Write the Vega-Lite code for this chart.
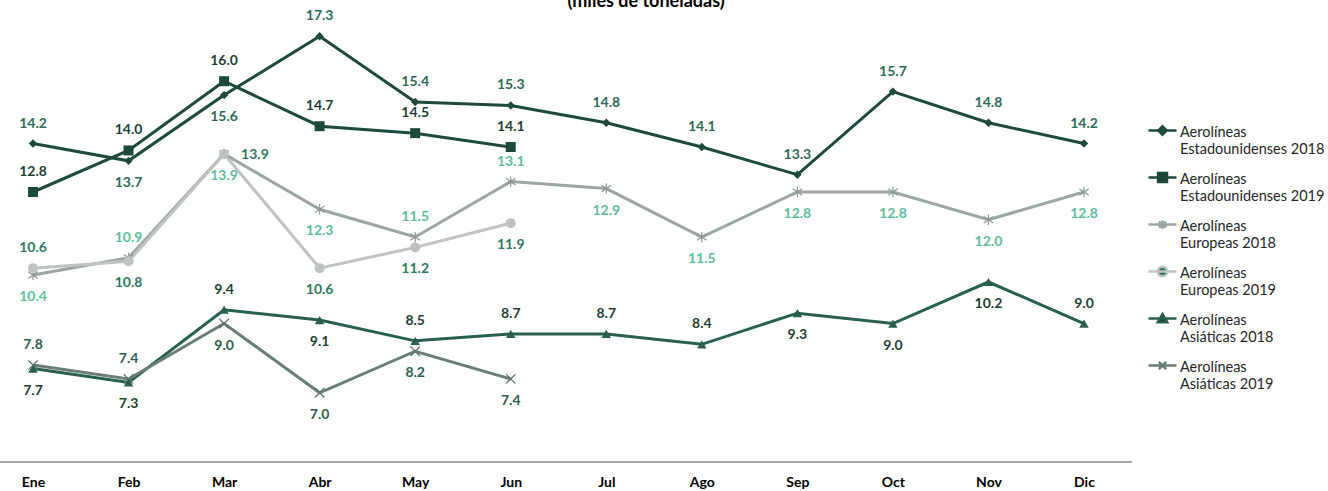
{
  "$schema": "https://vega.github.io/schema/vega-lite/v6.json",
  "width": 1132,
  "height": 450,
  "autosize": {"type": "none"},
  "padding": {"left": 0, "top": 12, "right": 196, "bottom": 29},
  "background": "white",
  "config": {
    "font": "Lato",
    "view": {"stroke": null}
  },
  "title": {
    "text": "(miles de toneladas)",
    "fontSize": 18,
    "fontWeight": "bold",
    "color": "#000000",
    "anchor": "middle",
    "offset": -2,
    "dx": 80
  },
  "data": {
    "values": [
      {"mes": "Ene", "serie": "Aerolíneas Estadounidenses 2018", "valor": 14.2},
      {"mes": "Feb", "serie": "Aerolíneas Estadounidenses 2018", "valor": 13.7},
      {"mes": "Mar", "serie": "Aerolíneas Estadounidenses 2018", "valor": 15.6},
      {"mes": "Abr", "serie": "Aerolíneas Estadounidenses 2018", "valor": 17.3},
      {"mes": "May", "serie": "Aerolíneas Estadounidenses 2018", "valor": 15.4},
      {"mes": "Jun", "serie": "Aerolíneas Estadounidenses 2018", "valor": 15.3},
      {"mes": "Jul", "serie": "Aerolíneas Estadounidenses 2018", "valor": 14.8},
      {"mes": "Ago", "serie": "Aerolíneas Estadounidenses 2018", "valor": 14.1},
      {"mes": "Sep", "serie": "Aerolíneas Estadounidenses 2018", "valor": 13.3},
      {"mes": "Oct", "serie": "Aerolíneas Estadounidenses 2018", "valor": 15.7},
      {"mes": "Nov", "serie": "Aerolíneas Estadounidenses 2018", "valor": 14.8},
      {"mes": "Dic", "serie": "Aerolíneas Estadounidenses 2018", "valor": 14.2},
      {"mes": "Ene", "serie": "Aerolíneas Estadounidenses 2019", "valor": 12.8},
      {"mes": "Feb", "serie": "Aerolíneas Estadounidenses 2019", "valor": 14.0},
      {"mes": "Mar", "serie": "Aerolíneas Estadounidenses 2019", "valor": 16.0},
      {"mes": "Abr", "serie": "Aerolíneas Estadounidenses 2019", "valor": 14.7},
      {"mes": "May", "serie": "Aerolíneas Estadounidenses 2019", "valor": 14.5},
      {"mes": "Jun", "serie": "Aerolíneas Estadounidenses 2019", "valor": 14.1},
      {"mes": "Ene", "serie": "Aerolíneas Europeas 2018", "valor": 10.4},
      {"mes": "Feb", "serie": "Aerolíneas Europeas 2018", "valor": 10.9},
      {"mes": "Mar", "serie": "Aerolíneas Europeas 2018", "valor": 13.9},
      {"mes": "Abr", "serie": "Aerolíneas Europeas 2018", "valor": 12.3},
      {"mes": "May", "serie": "Aerolíneas Europeas 2018", "valor": 11.5},
      {"mes": "Jun", "serie": "Aerolíneas Europeas 2018", "valor": 13.1},
      {"mes": "Jul", "serie": "Aerolíneas Europeas 2018", "valor": 12.9},
      {"mes": "Ago", "serie": "Aerolíneas Europeas 2018", "valor": 11.5},
      {"mes": "Sep", "serie": "Aerolíneas Europeas 2018", "valor": 12.8},
      {"mes": "Oct", "serie": "Aerolíneas Europeas 2018", "valor": 12.8},
      {"mes": "Nov", "serie": "Aerolíneas Europeas 2018", "valor": 12.0},
      {"mes": "Dic", "serie": "Aerolíneas Europeas 2018", "valor": 12.8},
      {"mes": "Ene", "serie": "Aerolíneas Europeas 2019", "valor": 10.6},
      {"mes": "Feb", "serie": "Aerolíneas Europeas 2019", "valor": 10.8},
      {"mes": "Mar", "serie": "Aerolíneas Europeas 2019", "valor": 13.9},
      {"mes": "Abr", "serie": "Aerolíneas Europeas 2019", "valor": 10.6},
      {"mes": "May", "serie": "Aerolíneas Europeas 2019", "valor": 11.2},
      {"mes": "Jun", "serie": "Aerolíneas Europeas 2019", "valor": 11.9},
      {"mes": "Ene", "serie": "Aerolíneas Asiáticas 2018", "valor": 7.7},
      {"mes": "Feb", "serie": "Aerolíneas Asiáticas 2018", "valor": 7.3},
      {"mes": "Mar", "serie": "Aerolíneas Asiáticas 2018", "valor": 9.4},
      {"mes": "Abr", "serie": "Aerolíneas Asiáticas 2018", "valor": 9.1},
      {"mes": "May", "serie": "Aerolíneas Asiáticas 2018", "valor": 8.5},
      {"mes": "Jun", "serie": "Aerolíneas Asiáticas 2018", "valor": 8.7},
      {"mes": "Jul", "serie": "Aerolíneas Asiáticas 2018", "valor": 8.7},
      {"mes": "Ago", "serie": "Aerolíneas Asiáticas 2018", "valor": 8.4},
      {"mes": "Sep", "serie": "Aerolíneas Asiáticas 2018", "valor": 9.3},
      {"mes": "Oct", "serie": "Aerolíneas Asiáticas 2018", "valor": 9.0},
      {"mes": "Nov", "serie": "Aerolíneas Asiáticas 2018", "valor": 10.2},
      {"mes": "Dic", "serie": "Aerolíneas Asiáticas 2018", "valor": 9.0},
      {"mes": "Ene", "serie": "Aerolíneas Asiáticas 2019", "valor": 7.8},
      {"mes": "Feb", "serie": "Aerolíneas Asiáticas 2019", "valor": 7.4},
      {"mes": "Mar", "serie": "Aerolíneas Asiáticas 2019", "valor": 9.0},
      {"mes": "Abr", "serie": "Aerolíneas Asiáticas 2019", "valor": 7.0},
      {"mes": "May", "serie": "Aerolíneas Asiáticas 2019", "valor": 8.2},
      {"mes": "Jun", "serie": "Aerolíneas Asiáticas 2019", "valor": 7.4}
    ]
  },
  "encoding": {
    "x": {
      "field": "mes",
      "type": "ordinal",
      "sort": ["Ene", "Feb", "Mar", "Abr", "May", "Jun", "Jul", "Ago", "Sep", "Oct", "Nov", "Dic"],
      "scale": {"type": "point", "range": [33, 1084], "padding": 0},
      "axis": {
        "title": null,
        "domain": false,
        "ticks": false,
        "grid": false,
        "labelAngle": 0,
        "labelFont": "Lato",
        "labelFontSize": 14,
        "labelFontWeight": "bold",
        "labelColor": "#000000",
        "labelPadding": 13
      }
    },
    "y": {
      "field": "valor",
      "type": "quantitative",
      "scale": {"domain": [5, 18], "nice": false, "zero": false},
      "axis": null
    }
  },
  "layer": [
    {
      "mark": {"type": "rule", "color": "#A6A6A6", "strokeWidth": 1.5},
      "encoding": {
        "x": null,
        "y": {"datum": 5, "type": "quantitative"}
      }
    },
    {
      "mark": {"type": "line", "strokeWidth": 3},
      "encoding": {
        "detail": {"field": "serie"},
        "color": {
          "field": "serie",
          "type": "nominal",
          "scale": {
            "domain": ["Aerolíneas Estadounidenses 2018", "Aerolíneas Estadounidenses 2019", "Aerolíneas Europeas 2018", "Aerolíneas Europeas 2019", "Aerolíneas Asiáticas 2018", "Aerolíneas Asiáticas 2019"],
            "range": ["#1E4A3B", "#1E4A3B", "#9DA6A2", "#BFC3C1", "#28604B", "#6A7E76"]
          },
          "legend": {
            "title": null,
            "orient": "none",
            "legendX": 1147,
            "legendY": 103,
            "padding": 0,
            "symbolSize": 784,
            "symbolStrokeWidth": 2.5,
            "labelFont": "Lato",
            "labelFontSize": 14.5,
            "labelColor": "#262626",
            "labelOffset": 2,
            "labelLimit": 300,
            "rowPadding": 6,
            "labelBaseline": "top",
            "labelExpr": "[slice(datum.label, 0, indexof(datum.label, ' ')), slice(datum.label, indexof(datum.label, ' ') + 1)]",
            "encode": {
              "labels": {"update": {"lineHeight": {"value": 17}, "dy": {"value": -5}}},
              "symbols": {
                "update": {
                  "shape": {"signal": "datum.value == 'Aerolíneas Estadounidenses 2018' ? 'M-1,0H1M0,-0.3L0.3,0L0,0.3L-0.3,0Z' : datum.value == 'Aerolíneas Estadounidenses 2019' ? 'M-1,0H1M-0.32,-0.32H0.32V0.32H-0.32Z' : datum.value == 'Aerolíneas Europeas 2018' ? 'M-1,0H1M-0.26,-0.2L0.26,0.2M-0.26,0.2L0.26,-0.2M0,-0.3V0.3' : datum.value == 'Aerolíneas Europeas 2019' ? 'M-1,0H1M0.34,0A0.34,0.34,0,1,1,-0.34,0A0.34,0.34,0,1,1,0.34,0Z' : datum.value == 'Aerolíneas Asiáticas 2018' ? 'M-1,0H1M0,-0.32L0.34,0.26H-0.34Z' : 'M-1,0H1M-0.26,-0.26L0.26,0.26M-0.26,0.26L0.26,-0.26'"},
                  "size": {"value": 784},
                  "fill": {"signal": "scale('color', datum.value)"},
                  "stroke": {"signal": "scale('color', datum.value)"},
                  "strokeWidth": {"value": 2.5},
                  "opacity": {"value": 1},
                  "fillOpacity": {"value": 1},
                  "strokeOpacity": {"value": 1}
                }
              }
            }
          }
        }
      }
    },
    {
      "transform": [{"filter": "datum.serie == 'Aerolíneas Estadounidenses 2018'"}],
      "mark": {"type": "point", "shape": "diamond", "size": 70, "filled": true, "opacity": 1, "color": "#1E4A3B"}
    },
    {
      "transform": [{"filter": "datum.serie == 'Aerolíneas Estadounidenses 2019'"}],
      "mark": {"type": "point", "shape": "square", "size": 100, "filled": true, "opacity": 1, "color": "#1E4A3B"}
    },
    {
      "transform": [{"filter": "datum.serie == 'Aerolíneas Europeas 2018'"}],
      "mark": {"type": "point", "shape": "M-1,-0.7L1,0.7M-1,0.7L1,-0.7M0,-1.1L0,1.1", "size": 90, "filled": false, "opacity": 1, "stroke": "#8E9893", "strokeWidth": 1.2}
    },
    {
      "transform": [{"filter": "datum.serie == 'Aerolíneas Europeas 2019'"}],
      "mark": {"type": "point", "shape": "circle", "size": 100, "filled": true, "opacity": 1, "color": "#BFC3C1"}
    },
    {
      "transform": [{"filter": "datum.serie == 'Aerolíneas Asiáticas 2018'"}],
      "mark": {"type": "point", "shape": "triangle-up", "size": 90, "filled": true, "opacity": 1, "color": "#28604B"}
    },
    {
      "transform": [{"filter": "datum.serie == 'Aerolíneas Asiáticas 2019'"}],
      "mark": {"type": "point", "shape": "M-1,-1L1,1M-1,1L1,-1", "size": 90, "filled": false, "opacity": 1, "stroke": "#5E716A", "strokeWidth": 1.2}
    },
    {
      "transform": [
        {"filter": "(datum.serie == 'Aerolíneas Estadounidenses 2018' && indexof(['Feb','Mar'], datum.mes) < 0) || datum.serie == 'Aerolíneas Estadounidenses 2019' || (datum.serie == 'Aerolíneas Europeas 2018' && indexof(['Feb','May','Jun'], datum.mes) >= 0) || (datum.serie == 'Aerolíneas Europeas 2019' && datum.mes == 'Ene') || (datum.serie == 'Aerolíneas Asiáticas 2018' && indexof(['Mar','May','Jun','Jul','Ago','Dic'], datum.mes) >= 0) || (datum.serie == 'Aerolíneas Asiáticas 2019' && indexof(['Ene','Feb'], datum.mes) >= 0)"}
      ],
      "mark": {"type": "text", "dy": -20, "fontSize": 14, "fontWeight": "bold", "font": "Lato", "baseline": "middle"},
      "encoding": {
        "text": {"field": "valor", "type": "quantitative", "format": ".1f"},
        "fill": {
          "field": "serie",
          "type": "nominal",
          "scale": {
            "domain": ["Aerolíneas Estadounidenses 2018", "Aerolíneas Estadounidenses 2019", "Aerolíneas Europeas 2018", "Aerolíneas Europeas 2019", "Aerolíneas Asiáticas 2018", "Aerolíneas Asiáticas 2019"],
            "range": ["#2E6B57", "#1F3F35", "#5CBF9B", "#2E7A62", "#1F3F35", "#2E5E4E"]
          },
          "legend": null
        }
      }
    },
    {
      "transform": [
        {"filter": "datum.serie == 'Aerolíneas Europeas 2019' && datum.mes == 'Mar'"}
      ],
      "mark": {"type": "text", "dx": 17, "dy": 1, "align": "left", "fontSize": 14, "fontWeight": "bold", "font": "Lato", "baseline": "middle"},
      "encoding": {
        "text": {"field": "valor", "type": "quantitative", "format": ".1f"},
        "fill": {"field": "serie", "type": "nominal", "legend": null}
      }
    },
    {
      "transform": [
        {"filter": "!((datum.serie == 'Aerolíneas Estadounidenses 2018' && indexof(['Feb','Mar'], datum.mes) < 0) || datum.serie == 'Aerolíneas Estadounidenses 2019' || (datum.serie == 'Aerolíneas Europeas 2018' && indexof(['Feb','May','Jun'], datum.mes) >= 0) || (datum.serie == 'Aerolíneas Europeas 2019' && datum.mes == 'Ene') || (datum.serie == 'Aerolíneas Asiáticas 2018' && indexof(['Mar','May','Jun','Jul','Ago','Dic'], datum.mes) >= 0) || (datum.serie == 'Aerolíneas Asiáticas 2019' && indexof(['Ene','Feb'], datum.mes) >= 0)) && !(datum.serie == 'Aerolíneas Europeas 2019' && datum.mes == 'Mar')"}
      ],
      "mark": {"type": "text", "dy": 22, "fontSize": 14, "fontWeight": "bold", "font": "Lato", "baseline": "middle"},
      "encoding": {
        "text": {"field": "valor", "type": "quantitative", "format": ".1f"},
        "fill": {"field": "serie", "type": "nominal", "legend": null}
      }
    }
  ]
}
